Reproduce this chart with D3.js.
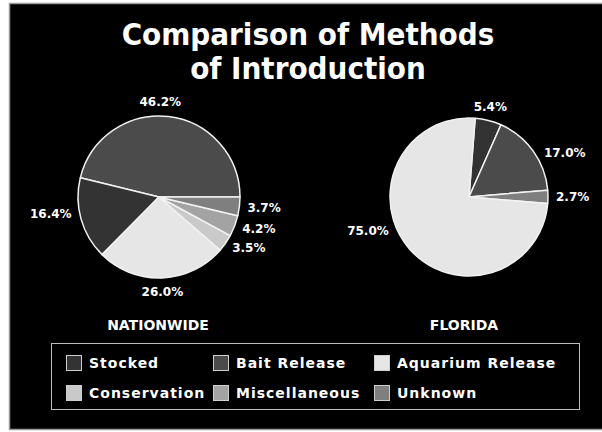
<!DOCTYPE html>
<meta charset="utf-8">
<head>
  <style>
    body { margin: 0; background: #fff; }
    svg { display: block; }
    text { font-family: "DejaVu Sans", Verdana, sans-serif; fill: #fff; }
  </style>
</head>
<body>
  <div class="main"></div>
  <script src="https://d3js.org/d3.v7.min.js"></script>
  <script>
    // data
    var titleLines = ["Comparison of Methods", "of Introduction"];
    var categories = ["Stocked", "Bait Release", "Aquarium Release", "Conservation", "Miscellaneous", "Unknown"];
    var pieNames = ["NATIONWIDE", "FLORIDA"];
    var nationwideValues = [16.4, 46.2, 26.0, 3.5, 4.2, 3.7];
    var floridaValues = [5.4, 17.0, 75.0, 0, 0, 2.7];

    var width = 602, height = 432;
    var colors = ["#333333", "#4b4b4b", "#e6e6e6", "#c9c9c9", "#a3a3a3", "#7f7f7f"];

    var svg = d3.select(".main").append("svg")
      .attr("width", width)
      .attr("height", height);

    // black panel with grey frame
    svg.append("rect")
      .attr("x", 9.5).attr("y", 3.5)
      .attr("width", width).attr("height", 426)
      .attr("fill", "#000")
      .attr("stroke", "#9a9a9a")
      .attr("stroke-width", 1.5);

    // title
    svg.append("g").selectAll("text")
      .data(titleLines)
      .enter().append("text")
      .attr("x", 308)
      .attr("y", function (d, i) { return 45 + i * 34; })
      .attr("text-anchor", "middle")
      .style("font-family", "'DejaVu Sans Condensed', 'DejaVu Sans', sans-serif")
      .style("font-weight", "bold")
      .style("font-size", "31px")
      .text(function (d) { return d; });

    // pies: slice order, start angle and label turns (degrees) differ per pie
    var pies = [
      { name: pieNames[0], values: nationwideValues, cx: 159, cy: 197, r: 81, capX: 158,
        order: [1, 0, 2, 3, 4, 5], start: Math.PI / 2, dir: -1, turn: { 1: -6, 0: 5 } },
      { name: pieNames[1], values: floridaValues, cx: 469, cy: 197, r: 79, capX: 464,
        order: [0, 1, 5, 2, 3, 4], start: 0.078, dir: 1, turn: { 1: 5, 2: 17.6 } }
    ];

    pies.forEach(function (p) {
      var rows = p.order.map(function (k) { return { key: k, value: p.values[k] }; });
      var pie = d3.pie()
        .sort(null)
        .value(function (d) { return d.value; })
        .startAngle(p.start)
        .endAngle(p.start + p.dir * 2 * Math.PI);
      var arcs = pie(rows).filter(function (d) { return d.data.value > 0; });
      var arc = d3.arc().innerRadius(0).outerRadius(p.r);

      var g = svg.append("g")
        .attr("transform", "translate(" + p.cx + "," + p.cy + ")");

      g.selectAll("path")
        .data(arcs)
        .enter().append("path")
        .attr("d", arc)
        .attr("fill", function (d) { return colors[d.data.key]; })
        .attr("stroke", "#f2f2f2")
        .attr("stroke-width", 1.5)
        .attr("stroke-linejoin", "round");

      // percentage labels just outside each slice
      var lr = p.r + 8;
      function mid(d) {
        return (d.startAngle + d.endAngle) / 2 + (p.turn[d.data.key] || 0) * Math.PI / 180;
      }
      g.selectAll("text.pct")
        .data(arcs)
        .enter().append("text")
        .attr("class", "pct")
        .attr("x", function (d) { return lr * Math.sin(mid(d)); })
        .attr("y", function (d) {
          var a = mid(d), y = -lr * Math.cos(a);
          if (Math.abs(Math.sin(a)) <= 0.35) y -= 6 * Math.cos(a);
          return y;
        })
        .attr("dy", "0.35em")
        .attr("text-anchor", function (d) {
          var s = Math.sin(mid(d));
          return s > 0.35 ? "start" : (s < -0.35 ? "end" : "middle");
        })
        .style("font-weight", "bold")
        .style("font-size", "12px")
        .text(function (d) { return d3.format(".1f")(d.data.value) + "%"; });

      // pie caption
      svg.append("text")
        .attr("x", p.capX)
        .attr("y", 330)
        .attr("text-anchor", "middle")
        .style("font-weight", "bold")
        .style("font-size", "14px")
        .text(p.name);
    });

    // legend
    var legend = svg.append("g");
    legend.append("rect")
      .attr("x", 51.5).attr("y", 343.5)
      .attr("width", 528).attr("height", 66)
      .attr("fill", "none")
      .attr("stroke", "#bdbdbd")
      .attr("stroke-width", 1);

    var colX = d3.scaleOrdinal().domain([0, 1, 2]).range([66, 213, 374]);
    var rowY = d3.scaleOrdinal().domain([0, 1]).range([363, 393]);

    var item = legend.selectAll("g.item")
      .data(categories)
      .enter().append("g")
      .attr("class", "item")
      .attr("transform", function (d, i) {
        return "translate(" + colX(i % 3) + "," + rowY(Math.floor(i / 3)) + ")";
      });

    item.append("rect")
      .attr("x", 0.5).attr("y", -7.5)
      .attr("width", 15).attr("height", 15)
      .attr("fill", function (d, i) { return colors[i]; })
      .attr("stroke", "#cfcfcf");

    item.append("text")
      .attr("x", 23)
      .attr("dy", "0.36em")
      .style("font-weight", "bold")
      .style("font-size", "14px")
      .style("letter-spacing", "1px")
      .text(function (d) { return d; });
  </script>
</body>
